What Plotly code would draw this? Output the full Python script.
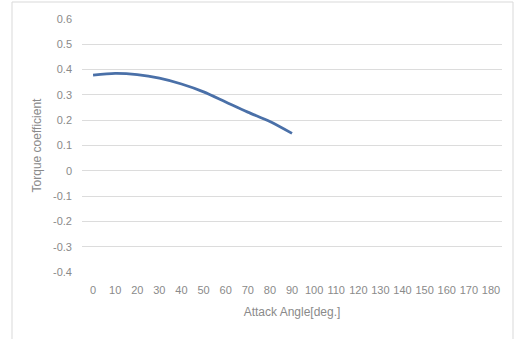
import plotly.graph_objects as go

categories = [str(v) for v in range(0, 190, 10)]
angles = ["0", "10", "20", "30", "40", "50", "60", "70", "80", "90"]
torque = [0.378, 0.385, 0.380, 0.366, 0.343, 0.312, 0.272, 0.232, 0.195, 0.148]
y_ticks = [0.6, 0.5, 0.4, 0.3, 0.2, 0.1, 0, -0.1, -0.2, -0.3, -0.4]
y_labels = ["0.6", "0.5", "0.4", "0.3", "0.2", "0.1", "0", "-0.1", "-0.2", "-0.3", "-0.4"]

grey = "#8a8a8a"
font = dict(family="Liberation Sans, Arial, sans-serif", size=11, color=grey)

fig = go.Figure()
fig.add_trace(go.Scatter(
    x=angles, y=torque, mode="lines",
    line=dict(color="#4a70a8", width=2.8, shape="spline", smoothing=0.8),
    showlegend=False, hoverinfo="skip",
))

L, R, T, B = 82, 12, 19, 67
W, H = 514, 339
pw, ph = W - L - R, H - T - B

fig.update_layout(
    width=W, height=H,
    margin=dict(l=L, r=R, t=T, b=B),
    paper_bgcolor="white", plot_bgcolor="white",
    font=font,
    xaxis=dict(
        type="category", categoryorder="array", categoryarray=categories,
        tickvals=categories, ticktext=categories, tickangle=0,
        range=[-0.5, len(categories) - 0.5],
        showgrid=False, zeroline=False, showline=False, ticks="",
        ticklabelstandoff=10,
        tickfont=dict(size=11, color=grey),
        title=dict(text="Attack Angle[deg.]", font=dict(size=12, color=grey), standoff=12),
        automargin=False,
    ),
    yaxis=dict(
        range=[-0.4, 0.6], tickvals=y_ticks, ticktext=y_labels,
        showgrid=True, gridcolor="#dcdcdc", gridwidth=1,
        zeroline=False, showline=False, ticks="",
        ticklabelstandoff=9,
        tickfont=dict(size=11, color=grey),
        title=dict(text="Torque coefficient", font=dict(size=12, color=grey), standoff=8),
        automargin=False,
    ),
)

# outer chart border
fig.add_shape(
    type="rect", xref="paper", yref="paper",
    x0=(12 - L) / pw, x1=(513 - L) / pw,
    y0=(T + ph - 345) / ph, y1=(T + ph - 2) / ph,
    line=dict(color="#d9d9d9", width=1), fillcolor="rgba(0,0,0,0)", layer="below",
)

fig.write_html(
    "out.html",
    config={"displayModeBar": False},
    post_script="document.body.style.margin='0';document.body.style.padding='0';document.body.style.overflow='hidden';",
)
